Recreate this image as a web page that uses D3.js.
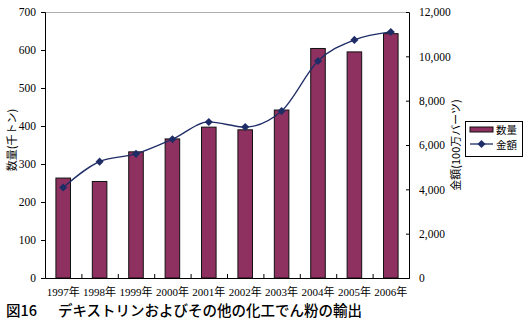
<!DOCTYPE html>
<html>
<head>
<meta charset="utf-8">
<script src="https://cdn.jsdelivr.net/npm/d3@7"></script>
<style>
  html, body { margin: 0; padding: 0; background: #fff; }
  svg { display: block; }
  .num { font-family: "Liberation Serif", "Noto Sans CJK JP", serif; font-size: 11.5px; fill: #000; }
  .yr { font-family: "Liberation Serif", "Noto Sans CJK JP", serif; font-size: 11px; fill: #000; }
  .jp { font-family: "Noto Sans CJK JP", sans-serif; fill: #000; }
</style>
</head>
<body>
<svg id="chart" width="528" height="322"></svg>
<script>
// Export of dextrin and other modified starches, 1997-2006
const years = ["1997年", "1998年", "1999年", "2000年", "2001年", "2002年", "2003年", "2004年", "2005年", "2006年"];
const quantity = [263, 254, 332, 366, 397, 390, 442, 604, 595, 643];          // 数量 (千トン)
const amount = [4080, 5250, 5600, 6260, 7040, 6810, 7530, 9790, 10740, 11100]; // 金額 (100万バーツ)
const leftTicks = [0, 100, 200, 300, 400, 500, 600, 700];
const rightTicks = [0, 2000, 4000, 6000, 8000, 10000, 12000];
const seriesNames = ["数量", "金額"];
const titleNo = "図16";
const titleText = "デキストリンおよびその他の化工でん粉の輸出";
const leftTitle = "数量(千トン)";
const rightTitle = "金額(100万バーツ)";

const svg = d3.select("#chart");
const plot = { left: 45, right: 409, top: 12, bottom: 278 };

const x = d3.scaleBand().domain(years).range([plot.left, plot.right]);
const yL = d3.scaleLinear().domain([0, 700]).range([plot.bottom, plot.top]);
const yR = d3.scaleLinear().domain([0, 12000]).range([plot.bottom, plot.top]);

const barColor = "#8f3160";
const lineColor = "#1f2d66";

// plot area top border
svg.append("line")
  .attr("x1", plot.left).attr("x2", plot.right)
  .attr("y1", plot.top + 0.5).attr("y2", plot.top + 0.5)
  .attr("stroke", "#b0b0b0").attr("stroke-width", 1);

// bars
const bw = x.bandwidth() * 0.4;
svg.append("g").selectAll("rect").data(years).join("rect")
  .attr("x", d => x(d) + (x.bandwidth() - bw) / 2)
  .attr("y", (d, i) => yL(quantity[i]))
  .attr("width", bw)
  .attr("height", (d, i) => plot.bottom - yL(quantity[i]))
  .attr("fill", barColor)
  .attr("stroke", "#111")
  .attr("stroke-width", 1);

// left axis
const gL = svg.append("g").attr("transform", `translate(${plot.left},0)`)
  .call(d3.axisLeft(yL).tickValues(leftTicks).tickSize(4).tickPadding(5).tickFormat(d3.format("d")));
gL.select(".domain").attr("stroke", "#000");
gL.selectAll(".tick line").attr("stroke", "#000");
gL.selectAll("text").attr("class", "num").attr("font-family", null).attr("font-size", null);

// right axis (ticks pointing inward)
const gR = svg.append("g").attr("transform", `translate(${plot.right},0)`)
  .call(d3.axisRight(yR).tickValues(rightTicks).tickSize(-3).tickPadding(10).tickFormat(d3.format(",")));
gR.select(".domain").attr("stroke", "#000");
gR.selectAll(".tick line").attr("stroke", "#000");
gR.selectAll("text").attr("class", "num").attr("font-family", null).attr("font-size", null);

// bottom axis: ticks at category boundaries, pointing up
const gB = svg.append("g").attr("transform", `translate(0,${plot.bottom})`)
  .call(d3.axisBottom(x).tickSize(0).tickPadding(10));
gB.select(".domain").attr("stroke", "#000");
gB.selectAll("text").attr("class", "yr").attr("font-family", null).attr("font-size", null);
svg.append("g").selectAll("line").data(years.slice(1)).join("line")
  .attr("x1", d => x(d) + 0.5).attr("x2", d => x(d) + 0.5)
  .attr("y1", plot.bottom).attr("y2", plot.bottom - 4)
  .attr("stroke", "#000");

// amount line with diamond markers
const line = d3.line()
  .x((d, i) => x(years[i]) + x.bandwidth() / 2)
  .y(d => yR(d))
  .curve(d3.curveMonotoneX);
svg.append("path").datum(amount)
  .attr("d", line)
  .attr("fill", "none")
  .attr("stroke", lineColor)
  .attr("stroke-width", 1.3);
const diamond = d3.symbol().type(d3.symbolDiamond2).size(42);
svg.append("g").selectAll("path").data(amount).join("path")
  .attr("d", diamond)
  .attr("transform", (d, i) => `translate(${x(years[i]) + x.bandwidth() / 2},${yR(d)})`)
  .attr("fill", lineColor);

// axis titles
svg.append("text").attr("class", "jp")
  .attr("transform", "translate(16,140) rotate(-90)")
  .attr("text-anchor", "middle")
  .attr("font-size", 11)
  .text(leftTitle);
svg.append("text").attr("class", "jp")
  .attr("transform", "translate(460,145) rotate(-90)")
  .attr("text-anchor", "middle")
  .attr("font-size", 11)
  .text(rightTitle);

// legend
const lg = svg.append("g").attr("transform", "translate(465,121)");
lg.append("rect").attr("x", 0.5).attr("y", 0.5).attr("width", 57).attr("height", 35)
  .attr("fill", "#fff").attr("stroke", "#000");
lg.append("rect").attr("x", 5).attr("y", 6).attr("width", 23).attr("height", 5)
  .attr("fill", barColor).attr("stroke", "#111");
lg.append("text").attr("class", "jp").attr("x", 31).attr("y", 12.5).attr("font-size", 10.5).text(seriesNames[0]);
lg.append("line").attr("x1", 5).attr("x2", 28).attr("y1", 23).attr("y2", 23)
  .attr("stroke", lineColor).attr("stroke-width", 1.3);
lg.append("path").attr("d", diamond).attr("transform", "translate(16.5,23)").attr("fill", lineColor);
lg.append("text").attr("class", "jp").attr("x", 31).attr("y", 27.5).attr("font-size", 10.5).text(seriesNames[1]);

// figure title
svg.append("text").attr("class", "jp").attr("x", 6).attr("y", 316)
  .attr("font-size", 14.5).attr("font-weight", 500).text(titleNo);
svg.append("text").attr("class", "jp").attr("x", 58).attr("y", 316)
  .attr("font-size", 14.5).attr("font-weight", 500).text(titleText);
</script>
</body>
</html>
